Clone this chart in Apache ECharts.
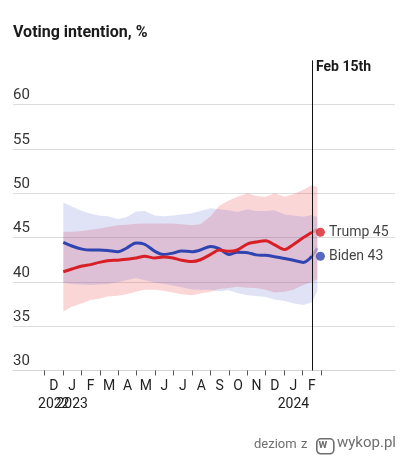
<!DOCTYPE html>
<html><head><meta charset="utf-8">
<script src="https://cdn.jsdelivr.net/npm/echarts@6/dist/echarts.min.js"></script>
<style>html,body{margin:0;padding:0;background:#fff}#c{width:400px;height:458px}</style>
</head><body><div id="c"></div>
<script>
// ---- data ----
const dates = ['2023-01-01','2023-01-15','2023-02-01','2023-02-15','2023-03-01','2023-03-15','2023-04-01','2023-04-15',
  '2023-05-01','2023-05-15','2023-06-01','2023-06-15','2023-07-01','2023-07-15','2023-08-01','2023-08-15',
  '2023-09-01','2023-09-15','2023-10-01','2023-10-15','2023-11-01','2023-11-15','2023-12-01','2023-12-15',
  '2024-01-01','2024-01-15','2024-02-01','2024-02-15'];
const trump = [41.15,41.45,41.8,41.95,42.2,42.4,42.45,42.55,42.7,42.9,42.7,42.8,42.7,42.45,42.3,42.5,
  43.1,43.6,43.45,43.6,44.3,44.5,44.65,44.2,43.65,44.2,45.0,45.6];
const biden = [44.45,44.05,43.7,43.6,43.6,43.55,43.4,43.8,44.4,44.25,43.45,43.1,43.25,43.5,43.4,43.6,
  44.0,43.75,43.1,43.35,43.3,43.05,43.0,42.85,42.65,42.45,42.2,42.9];
// faint projection beyond the last poll date
const projDate = '2024-02-24';
const trumpProj = 45.9;
const bidenProj = 43.8;
// uncertainty bands (last point = projection date)
const bandDates = dates.concat([projDate]);
const trumpHigh = [45.65,45.65,45.75,45.9,46.0,46.2,46.4,46.45,46.55,46.6,46.6,46.6,46.6,46.5,46.4,46.5,
  47.4,48.6,49.2,49.6,50.0,49.7,49.6,50.0,49.6,49.9,50.4,50.9,50.7];
const trumpLow = [36.65,37.2,37.6,37.95,38.1,38.35,38.45,38.6,38.9,39.1,39.1,39.0,38.8,38.6,38.5,38.7,
  38.9,39.2,39.3,39.45,39.35,39.3,39.1,38.8,38.9,39.1,39.65,40.0,40.3];
const bidenHigh = [48.95,48.5,48.0,47.7,47.5,47.4,47.1,47.3,47.95,48.0,47.5,47.4,47.5,47.6,47.75,48.0,
  48.3,48.2,48.1,47.9,48.2,48.0,48.0,48.1,47.6,47.5,47.35,47.55,47.3];
const bidenLow = [39.9,39.75,39.7,39.65,39.7,39.75,39.95,40.2,40.45,40.2,39.9,39.8,39.6,39.4,39.15,39.1,
  39.1,38.95,39.05,38.75,38.5,38.4,38.3,38.0,37.85,37.6,37.4,37.7,39.0];
// end labels
const endNames = ['Trump','Biden'];
const endLabels = [45, 43];
const endDate = '2024-02-29';
// axes
const yTicks = [30,35,40,45,50,55,60];
const xStart = '2022-10-10', xEnd = '2024-07-01';
const monthStart = '2022-12-01', monthEnd = '2024-03-01';
const monthLetters = ['D','J','F','M','A','M','J','J','A','S','O','N','D','J','F'];
const yearLabels = ['2022','2023','','','','','','','','','','','','2024',''];
const markerDate = '2024-02-15';
const markerText = 'Feb 15th';

// ---- helpers ----
function ts(s){const p=s.split('-').map(Number);return Date.UTC(p[0],p[1]-1,p[2]);}
const RED = '#d81f26', BLUE = '#2f44b0';
const FONT = 'Roboto';
const W = 400, GL = 13, GR = 5, GT = 60.4, GB = 87.5;
const plotW = W - GL - GR;
const xMin = ts(xStart), xMax = ts(xEnd);
const mLeft = GL + (ts(monthStart)-xMin)/(xMax-xMin)*plotW;
const mRight = GL + (ts(monthEnd)-xMin)/(xMax-xMin)*plotW;

const chart = echarts.init(document.getElementById('c'), null, {renderer:'canvas'});
const yMax = 65;
const gridColors = yTicks.map(()=> '#dcdcdc').concat(['rgba(0,0,0,0)']);

function band(low, high, color){
  return {type:'custom', silent:true, clip:true, z:1,
    encode:{x:0, y:[1,2]},
    data: bandDates.map((d,i)=>[ts(d), low[i], high[i]]),
    renderItem:(params, api)=>{
      if (params.dataIndex !== 0) return null;
      const up = bandDates.map((d,i)=>api.coord([ts(d), high[i]]));
      const dn = bandDates.map((d,i)=>api.coord([ts(d), low[i]])).reverse();
      return {type:'polygon', shape:{points: up.concat(dn)}, style:{fill:color}};
    }};
}

const option = {
  animation:false,
  title:{text:'Voting intention, %', left:13, top:25, padding:0,
    textStyle:{fontFamily:FONT, fontWeight:'bold', fontSize:16, color:'#1a1a1a'}},
  grid:[
    {left:GL, right:GR, top:GT, bottom:GB, containLabel:false},
    {left:mLeft, width:mRight-mLeft, top:GT, bottom:GB, containLabel:false, show:false}
  ],
  xAxis:[
    {type:'value', gridIndex:0, min:xMin, max:xMax,
      splitLine:{show:false},
      axisLine:{show:true, lineStyle:{color:'#d4d4d4', width:1}},
      axisTick:{show:false}, axisLabel:{show:false}},
    {type:'category', gridIndex:1, data:monthLetters, boundaryGap:true,
      axisLine:{show:false},
      axisTick:{show:true, interval:0, alignWithLabel:false, length:5, lineStyle:{color:'#555', width:1}},
      axisLabel:{interval:0, hideOverlap:false, margin:7, fontFamily:FONT, fontSize:14, color:'#222', lineHeight:18,
        formatter:(v,i)=> yearLabels[i] ? v+'\n'+yearLabels[i] : v}}
  ],
  yAxis:[
    {type:'value', gridIndex:0, min:yTicks[0], max:yMax, interval:5,
      axisLine:{show:false}, axisTick:{show:false},
      splitLine:{show:true, lineStyle:{color:gridColors, width:1}},
      axisLabel:{inside:true, margin:0, verticalAlign:'bottom', lineHeight:18, fontFamily:FONT, fontSize:15, color:'#333',
        formatter:(v)=> v>=yMax ? '' : String(v)}},
    {type:'value', gridIndex:1, show:false, min:0, max:1}
  ],
  series:[
    band(trumpLow, trumpHigh, 'rgba(238,70,75,0.22)'),
    band(bidenLow, bidenHigh, 'rgba(70,85,200,0.17)'),
    {type:'line', symbol:'none', smooth:0.3, silent:true, z:3, lineStyle:{color:RED, width:3, opacity:0.3},
      data:[[ts(dates[dates.length-1]), trump[trump.length-1]],[ts(projDate), trumpProj]]},
    {type:'line', symbol:'none', smooth:0.3, silent:true, z:3, lineStyle:{color:BLUE, width:3, opacity:0.3},
      data:[[ts(dates[dates.length-1]), biden[biden.length-1]],[ts(projDate), bidenProj]]},
    {type:'line', name:'Biden', symbol:'none', smooth:0.3, z:4, lineStyle:{color:BLUE, width:3},
      data:dates.map((d,i)=>[ts(d), biden[i]])},
    {type:'line', name:'Trump', symbol:'none', smooth:0.3, z:5, lineStyle:{color:RED, width:3},
      data:dates.map((d,i)=>[ts(d), trump[i]]),
      markLine:{silent:true, symbol:'none', label:{show:false}, lineStyle:{color:'#111', width:1, type:'solid'},
        data:[[{coord:[ts(markerDate), yTicks[0]]},{coord:[ts(markerDate), yMax]}]]}},
    {type:'scatter', symbolSize:9, silent:true, z:6,
      data:[
        {value:[ts(endDate), trump[trump.length-1]], itemStyle:{color:RED}, label:{formatter:endNames[0]+' '+endLabels[0]}},
        {value:[ts(endDate), biden[biden.length-1]], itemStyle:{color:BLUE}, label:{formatter:endNames[1]+' '+endLabels[1]}}
      ],
      label:{show:true, position:'right', distance:4, fontFamily:FONT, fontSize:14, color:'#111'}}
  ],
  graphic:[
    {type:'text', left:316, top:60, style:{text:markerText, fontFamily:FONT, fontWeight:'bold', fontSize:14, fill:'#1a1a1a'}},
    {type:'text', left:254, top:438, style:{text:'deziom', fontFamily:FONT, fontSize:13, fill:'#6e6e6e'}},
    {type:'text', left:301, top:438, style:{text:'z', fontFamily:FONT, fontSize:13, fill:'#6e6e6e'}},
    {type:'rect', left:316, top:438, shape:{x:0, y:0, width:17, height:15, r:4}, style:{fill:'transparent', stroke:'#6e6e6e', lineWidth:1.6}},
    {type:'text', left:318.5, top:438.5, style:{text:'w', fontFamily:FONT, fontWeight:'bold', fontSize:12, fill:'#6e6e6e'}},
    {type:'text', left:337, top:436, style:{text:'wykop.pl', fontFamily:FONT, fontSize:15, fill:'#6e6e6e'}}
  ]
};
chart.setOption(option);
</script></body></html>
